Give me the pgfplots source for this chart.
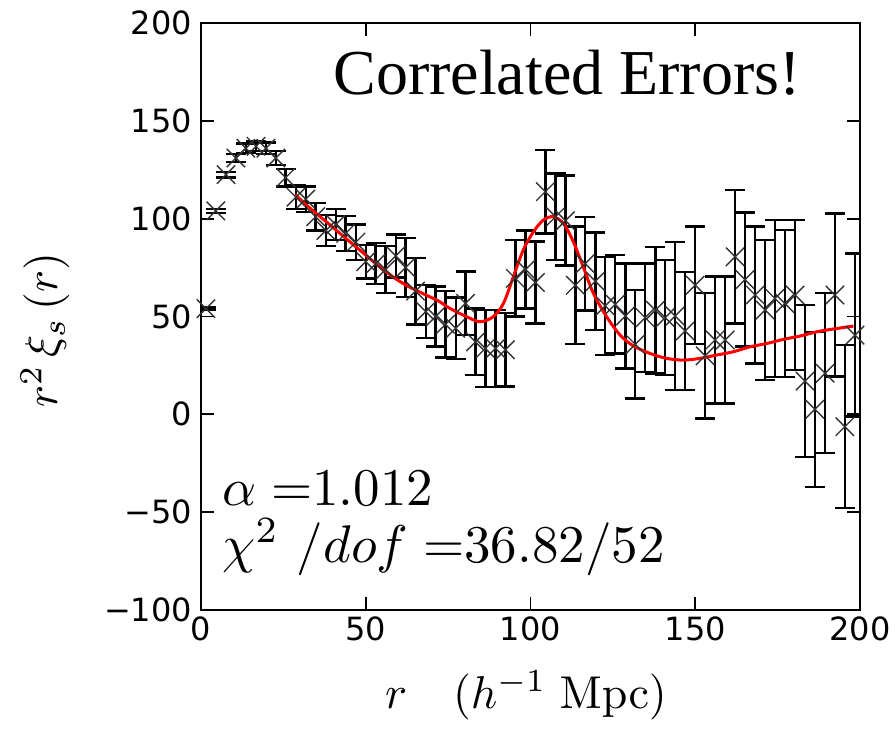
\documentclass[border=0pt]{standalone}
\usepackage[no-math]{fontspec}
\usepackage{graphicx}
\usepackage{pgfplots}
\usepackage{pgfplotstable}
\pgfplotsset{compat=1.18}
\newfontfamily\vera{DejaVu Sans}
\newfontfamily\timesf{Liberation Serif}

% measured points: r, r^2 xi, error
\pgfplotstableread{
r v e
1.5 54 0.5
4.5 104 1
7.6 122.5 1.5
10.6 131 2
13.6 136 2.5
16.7 137 2.5
19.7 136 3
22.7 131 3.5
25.7 121 4.5
28.8 111 6
31.8 110 6.5
34.8 101 7
37.9 94 8
40.9 97 8
43.9 92.5 9
47.0 88 9
50.0 78 8.5
53.0 77 10.5
56.0 74 12
59.1 81 11
62.1 75 15
65.1 63 17
68.2 52.5 13.6
71.2 50 15.3
74.2 46 17
77.3 44 15.8
80.3 56.7 16.2
83.3 37 17
86.3 33.7 19.6
89.4 33.7 19.6
92.4 33 18.7
95.4 69.5 19.6
98.5 74 20
101.5 67.4 20.9
104.5 113.8 21.3
107.6 101 22
110.6 99 23
113.6 66 30
116.6 77 24
119.7 68 25
122.7 55.4 25
125.7 56.2 25.1
128.8 50.3 26.8
131.8 35.8 27.7
134.8 49.4 27.7
137.9 53.2 32.4
140.9 49.4 29.4
143.9 50.3 37.9
146.9 42.6 30.2
150.0 66 30
153.0 29.9 32
156.0 38 32.4
159.1 38 32.4
162.1 80.5 34
165.1 68.9 34.3
168.2 61 35
171.2 53.3 35.8
174.2 59.2 40
177.2 56.7 37.5
180.3 61 38.3
183.3 17 38.8
186.3 2.6 39.6
189.4 21 40.9
192.4 61 41.7
195.4 -6.3 41.7
198.5 40.5 41.7
}\data

% best-fit model
\pgfplotstableread{
r v
28.5 112.4
33 105.5
38.6 97.6
43.7 90.3
48.8 83.1
53.8 76
58.9 69.5
63 65.3
68 61.2
72 58
75.6 54.1
80.6 49.9
84.7 47.3
88.7 49.9
91.8 56.7
94.8 70.3
97.8 84
100.9 93.3
103.9 99.3
106.9 101
110 97.6
113 88.2
116 75.4
119.1 61.8
123.1 49.9
127.2 40.5
131.2 35
136.3 31.1
141.3 28.6
146.4 27.7
151.4 28.6
156.5 30.3
161.6 32
166.6 34.5
171.7 36.2
176.7 38.3
181.8 40
186.9 42.2
191.9 43.6
198 45.1
}\model

\begin{document}
\begin{tikzpicture}
\useasboundingbox (-100.5pt,-59.5pt) rectangle (347pt,305pt);
\begin{axis}[
  at={(0pt,0pt)}, anchor=south west,
  width=329.5pt, height=293.5pt, scale only axis,
  xmin=0, xmax=200, ymin=-100, ymax=200,
  xtick={0,50,100,150,200}, xticklabels={0,50,100,150,200},
  ytick={-100,-50,0,50,100,150,200},
  yticklabels={−100,−50,0,50,100,150,200},
  tick label style={font=\vera\fontsize{16}{19}\selectfont},
  yticklabel style={xshift=-1pt},
  major tick length=6.5pt,
  tick style={line width=0.9pt, black},
  axis line style={line width=1.4pt},
  tick align=inside,
]
\addplot[black!80, only marks, mark=x, mark size=6.5pt,
  mark options={line width=0.7pt},
  error bars/.cd, y dir=both, y explicit,
  error bar style={line width=1.2pt, black},
  error mark options={rotate=90, mark size=5pt, line width=1.2pt, black}]
  table[x=r, y=v, y error=e] {\data};
\addplot[red, line width=1.5pt, smooth, no marks] table[x=r, y=v] {\model};
\end{axis}
\node[rotate=90, inner sep=0pt] at (-78pt,140pt) {\scalebox{2.3}{$r^2\,\xi_s\,(r)$}};
\node[anchor=base, inner sep=0pt] at (162.5pt,-49pt) {\scalebox{2.3}{$r\quad(h^{-1}\;\mathrm{Mpc})$}};
\node[anchor=base west, inner sep=0pt] at (10.5pt,52.5pt) {\scalebox{2.65}{$\alpha\;{=}1.012$}};
\node[anchor=base west, inner sep=0pt] at (10.5pt,24pt) {\scalebox{2.65}{$\chi^2\ /dof\;{=}36.82/52$}};
\node[anchor=base, inner sep=0pt, font=\timesf\fontsize{32}{38}\selectfont] at (183pt,257.5pt) {Correlated Errors!};
\end{tikzpicture}
\end{document}
